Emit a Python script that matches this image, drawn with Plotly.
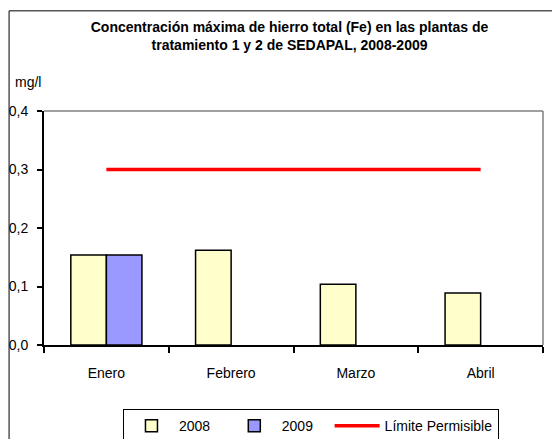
import plotly.graph_objects as go

meses = ["Enero", "Febrero", "Marzo", "Abril"]
fe_2008 = [0.154, 0.162, 0.104, 0.089]
fe_2009 = [0.154, None, None, None]
limite = [0.3, 0.3, 0.3, 0.3]

font_name = "Liberation Sans Narrow, Arial Narrow, Liberation Sans, Arial"
pad = "\u00a0" * 3  # a bit more room between legend entries

fig = go.Figure()

fig.add_trace(go.Bar(
    x=meses, y=fe_2008, name="2008" + pad,
    marker=dict(color="#FFFFCC", line=dict(color="black", width=1.5)),
))
fig.add_trace(go.Bar(
    x=meses, y=fe_2009, name="2009" + pad,
    marker=dict(color="#9999FF", line=dict(color="black", width=1.5)),
))
fig.add_trace(go.Scatter(
    x=meses, y=limite, name="Límite Permisible", mode="lines",
    line=dict(color="#FF0000", width=3.5),
))

# page body has an 8px margin, so the figure is a bit smaller than the window
fig.update_layout(
    width=552, height=431,
    margin=dict(l=36, r=17, t=103, b=94, autoexpand=False),
    paper_bgcolor="white", plot_bgcolor="white",
    font=dict(family=font_name, size=14, color="black"),
    separators=",.",
    barmode="group", bargap=0.43, bargroupgap=0,
    title=dict(
        text="<b>Concentración máxima de hierro total (Fe) en las plantas de<br>tratamiento 1 y 2 de SEDAPAL, 2008-2009</b>",
        x=0.51, xanchor="center", y=0.944, yanchor="top",
        font=dict(size=14),
    ),
    xaxis=dict(
        showline=True, linecolor="black", linewidth=2,
        ticks="outside", tickson="boundaries", ticklen=6, tickwidth=2, tickcolor="black",
        mirror=False, showgrid=False, automargin=False, ticklabelstandoff=14,
    ),
    yaxis=dict(
        range=[0, 0.4], dtick=0.1, tickformat=".1f",
        showline=True, linecolor="black", linewidth=2,
        ticks="outside", ticklen=5, tickwidth=2, tickcolor="black",
        showgrid=False, zeroline=False, automargin=False, ticklabelstandoff=6,
    ),
    legend=dict(
        orientation="h", x=0.535, xanchor="center", y=-0.274, yanchor="top",
        bordercolor="black", borderwidth=1, font=dict(size=14),
        traceorder="normal", itemwidth=45,
    ),
    shapes=[
        dict(type="line", xref="paper", yref="paper", x0=0, x1=1, y0=1, y1=1,
             line=dict(color="#808080", width=1.5)),
        dict(type="line", xref="paper", yref="paper", x0=1, x1=1, y0=0, y1=1,
             line=dict(color="#808080", width=1.5)),
        dict(type="rect", xref="paper", yref="paper", x0=-0.07, x1=1.05, y0=-0.5, y1=1.428,
             line=dict(color="black", width=1)),
    ],
    annotations=[
        dict(text="mg/l", xref="paper", yref="paper", x=-0.032, y=1.124,
             xanchor="center", yanchor="middle", showarrow=False, font=dict(size=14)),
    ],
)

fig.write_html("out.html")
